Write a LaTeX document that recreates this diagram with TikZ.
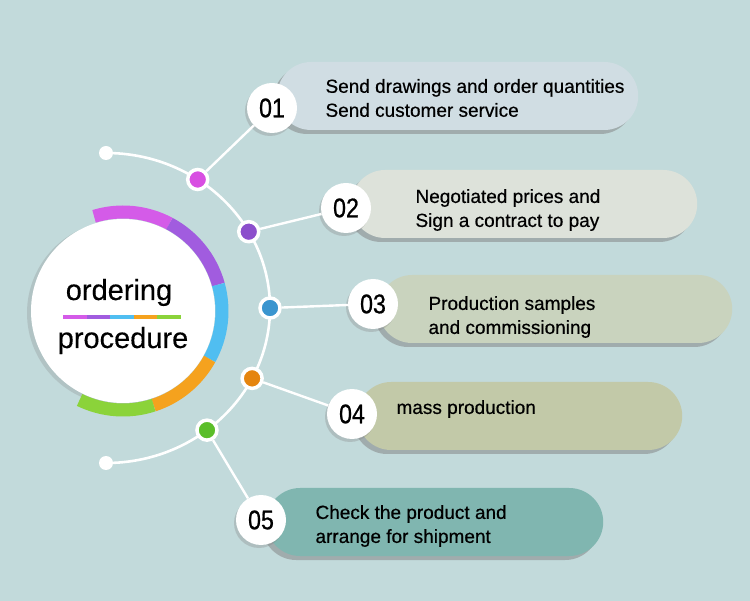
\documentclass[tikz,border=0pt]{standalone}
\usepackage{fontspec}
\setmainfont{Liberation Sans}
\newfontfamily\stepfont[FakeBold=0.5]{Liberation Sans}
\newfontfamily\numfont[FakeBold=0.7, FakeStretch=0.86]{Liberation Sans}
\newfontfamily\hubfont[FakeBold=0.3]{Liberation Sans}
\usetikzlibrary{shadows}

\definecolor{bgcol}{HTML}{C2DADB}
\definecolor{magcol}{HTML}{D45BE8}
\definecolor{purcol}{HTML}{A15CDF}
\definecolor{blucol}{HTML}{50BEF1}
\definecolor{orgcol}{HTML}{F5A21E}
\definecolor{grncol}{HTML}{8BD33A}
\definecolor{dotmag}{HTML}{D84FE2}
\definecolor{dotpur}{HTML}{8C4FCC}
\definecolor{dotblu}{HTML}{3A95CF}
\definecolor{dotorg}{HTML}{E5850F}
\definecolor{dotgrn}{HTML}{5BBE2A}
\definecolor{boxa}{HTML}{D0DDE3}
\definecolor{boxb}{HTML}{DDE2DA}
\definecolor{boxc}{HTML}{C9D3BE}
\definecolor{boxd}{HTML}{C2C9A8}
\definecolor{boxe}{HTML}{80B6B0}

\tikzset{
  stepnum/.style={circle, fill=white, minimum size=50pt, inner sep=0pt,
    font=\numfont\fontsize{27}{27}\selectfont,
    drop shadow={shadow xshift=-2pt, shadow yshift=-3pt, opacity=.3}},
  pill/.style={rectangle, rounded corners=34pt, minimum height=68pt, inner sep=0pt,
    anchor=west, fill=#1,
    drop shadow={shadow xshift=-4pt, shadow yshift=-4pt, opacity=.5}},
  steptext/.style={anchor=west, align=left, font=\stepfont\fontsize{19}{24}\selectfont},
  hubtext/.style={anchor=base, font=\hubfont\fontsize{29}{29}\selectfont},
  dot/.style={circle, fill=#1, draw=white, line width=3.5pt, minimum size=20pt, inner sep=0pt},
  enddot/.style={circle, fill=white, minimum size=14pt, inner sep=0pt},
  link/.style={white, line width=2.4pt},
}

\begin{document}
\begin{tikzpicture}[x=1pt, y=-1pt]
\fill[bgcol] (0,0) rectangle (750,601);
\useasboundingbox (0,0) rectangle (750,601);

\draw (123,311) node[circle, fill=white, minimum size=184pt,
  drop shadow={shadow xshift=-4pt, shadow yshift=-2pt, opacity=.25}] (hub) {};

\draw[line width=13pt, magcol] (123,311) ++(-107:99) arc[start angle=-107, end angle=-62, radius=99];
\draw[line width=13pt, purcol] (123,311) ++(-62:99) arc[start angle=-62, end angle=-15.5, radius=99];
\draw[line width=13pt, blucol] (123,311) ++(-15.5:99) arc[start angle=-15.5, end angle=29, radius=99];
\draw[line width=13pt, orgcol] (123,311) ++(29:99) arc[start angle=29, end angle=72, radius=99];
\draw[line width=13pt, grncol] (123,311) ++(72:99) arc[start angle=72, end angle=116, radius=99];

\draw (119,300) node[hubtext] (ord) {ordering};
\draw (123,348) node[hubtext] (proc) {procedure};

\draw[line width=4.5pt, magcol] (63,317) -- (86.6,317);
\draw[line width=4.5pt, purcol] (86.6,317) -- (110.2,317);
\draw[line width=4.5pt, blucol] (110.2,317) -- (133.8,317);
\draw[line width=4.5pt, orgcol] (133.8,317) -- (157.4,317);
\draw[line width=4.5pt, grncol] (157.4,317) -- (181,317);

\draw[link, line width=2.6pt] (106,153) arc[start angle=-90, end angle=90, x radius=164, y radius=155];

\draw (106,153) node[enddot] (top) {};
\draw (106,463) node[enddot] (bot) {};

\path (106,308) ++(-56:164 and 155) node[dot=dotmag] (d1) {};
\path (106,308) ++(-29.5:164 and 155) node[dot=dotpur] (d2) {};
\path (106,308) ++(0:164 and 155) node[dot=dotblu] (d3) {};
\path (106,308) ++(27:164 and 155) node[dot=dotorg] (d4) {};
\path (106,308) ++(52:164 and 155) node[dot=dotgrn] (d5) {};

\draw (277,96) node[pill=boxa, minimum width=361pt] (b1) {};
\draw (351,204) node[pill=boxb, minimum width=346pt] (b2) {};
\draw (378,309) node[pill=boxc, minimum width=354pt] (b3) {};
\draw (357,416) node[pill=boxd, minimum width=325pt] (b4) {};
\draw (266,522) node[pill=boxe, minimum width=337pt] (b5) {};

\draw (272,108) node[stepnum] (n1) {01};
\draw (346,208) node[stepnum] (n2) {02};
\draw (373,304) node[stepnum] (n3) {03};
\draw (352,414) node[stepnum] (n4) {04};
\draw (261,520) node[stepnum] (n5) {05};

\draw (322,98) node[steptext] (t1) {Send drawings and order quantities\\Send customer service};
\draw (412,210) node[steptext] (t2) {Negotiated prices and\\Sign a contract to pay};
\draw (425,317) node[steptext] (t3) {Production samples\\and commissioning};
\draw (393,409) node[steptext] (t4) {mass production};
\draw (312,526) node[steptext] (t5) {Check the product and\\arrange for shipment};

\draw[link] (d1) to (n1);
\draw[link] (d2) to (n2);
\draw[link] (d3) to (n3);
\draw[link] (d4) to (n4);
\draw[link] (d5) to (n5);
\end{tikzpicture}
\end{document}
